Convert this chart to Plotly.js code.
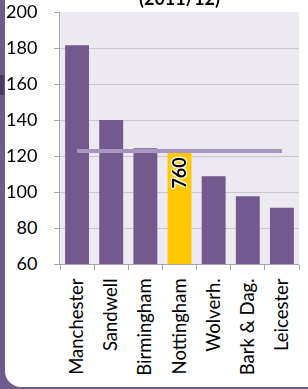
<!DOCTYPE html>
<html>
<head>
<meta charset="utf-8">
<script src="https://cdn.plot.ly/plotly-3.0.1.min.js"></script>
<style>
  html, body { margin: 0; padding: 0; width: 308px; height: 389px; overflow: hidden; background: #6F5B8C; }
  #card { position: absolute; left: 5px; top: -20px; width: 320px; height: 407px; background: #ffffff; border-bottom-left-radius: 16px; }
  #mark { position: absolute; left: 0; top: 75px; width: 4px; height: 20px; background: #4B3A60; }
  #chart { position: absolute; left: 0; top: 0; width: 308px; height: 389px; }
</style>
</head>
<body>
<div id="card"></div>
<div id="mark"></div>
<div id="chart"></div>
<script>
const categories = ["Manchester", "Sandwell", "Birmingham", "Nottingham", "Wolverh.", "Bark & Dag.", "Leicester"];
const values = [181.5, 140, 124.3, 122, 108.7, 97.6, 91.3];
const average = [122.8, 122.8, 122.8, 122.8, 122.8, 122.8, 122.8];
const highlight = "Nottingham";
const highlightLabel = "760";
const titleText = "(2011/12)";
const yTicks = [60, 80, 100, 120, 140, 160, 180, 200];

const barColors = categories.map(c => c === highlight ? "#FFC800" : "#72598E");
const font = "Lato, 'Open Sans', sans-serif";

const data = [
  {
    type: "bar",
    x: categories,
    y: values,
    marker: { color: barColors },
    hoverinfo: "none"
  },
  {
    type: "scatter",
    mode: "lines",
    x: categories,
    y: average,
    line: { color: "#A797C0", width: 4 },
    hoverinfo: "none"
  }
];

const layout = {
  width: 308,
  height: 389,
  margin: { l: 60, r: 9, t: 12, b: 125 },
  paper_bgcolor: "rgba(0,0,0,0)",
  plot_bgcolor: "#ECE9F0",
  showlegend: false,
  bargap: 0.3,
  font: { family: font, color: "#000000" },
  xaxis: {
    type: "category",
    tickangle: -90,
    tickfont: { size: 18.5, family: font, color: "#000" },
    ticks: "outside",
    tickson: "boundaries",
    ticklen: 5,
    tickcolor: "#A6A6A6",
    ticklabelstandoff: 6,
    showline: true,
    linecolor: "#A6A6A6",
    showgrid: false,
    fixedrange: true
  },
  yaxis: {
    range: [60, 200],
    tickvals: yTicks,
    ticktext: yTicks.map(String),
    tickfont: { size: 18, family: font, color: "#000" },
    ticks: "outside",
    ticklen: 5,
    tickcolor: "#A6A6A6",
    ticklabelstandoff: 13,
    showline: true,
    linecolor: "#A6A6A6",
    gridcolor: "#C9C6CE",
    gridwidth: 1,
    zeroline: false,
    fixedrange: true
  },
  annotations: [
    {
      x: highlight,
      y: 110.5,
      xref: "x",
      yref: "y",
      text: "<b>" + highlightLabel + "</b>",
      textangle: -90,
      showarrow: false,
      font: { size: 18, family: font, color: "#000", shadow: "1px 1px 1px #fff, -1px -1px 1px #fff, 1px -1px 1px #fff, -1px 1px 1px #fff" }
    },
    {
      x: 0.5,
      y: 1,
      xref: "paper",
      yref: "paper",
      yshift: 14,
      yanchor: "middle",
      text: "<b>" + titleText + "</b>",
      showarrow: false,
      font: { size: 18, family: font, color: "#000" }
    }
  ]
};

Plotly.newPlot("chart", data, layout, { displayModeBar: false, staticPlot: true });
</script>
</body>
</html>
